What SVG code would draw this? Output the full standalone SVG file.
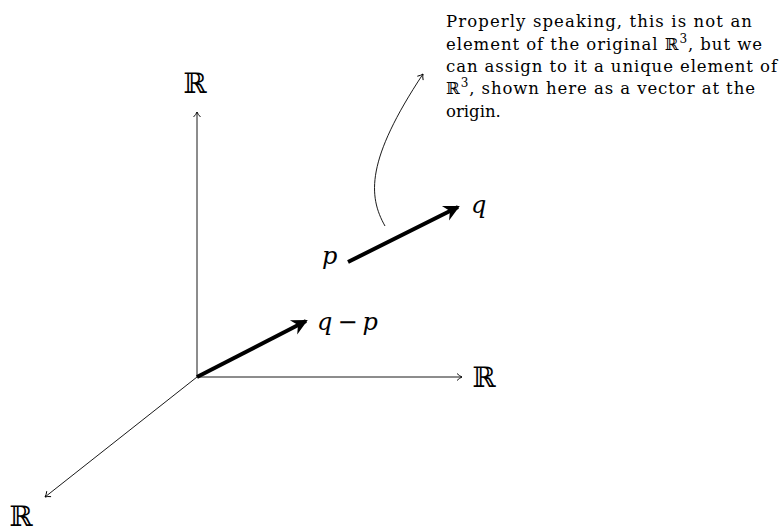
<svg xmlns="http://www.w3.org/2000/svg" width="782" height="532" viewBox="0 0 782 532">
<defs>
<style>
.ax{stroke:#000;stroke-width:0.9;fill:none}
.vec{stroke:#000;stroke-width:4;fill:none}
.bb{font-family:"DejaVu Serif",serif;font-size:28px;fill:#000}
.m{font-family:"DejaVu Serif",serif;font-style:italic;font-size:24px;fill:#000}
.mr{font-family:"DejaVu Serif",serif;font-style:normal;font-size:24px;fill:#000}
.t{font-family:"DejaVu Serif",serif;font-size:16.5px;fill:#000}
.ts{font-family:"DejaVu Serif",serif;font-size:16.5px}
.sup{font-family:"DejaVu Serif",serif;font-size:12px}
</style>
<marker id="to" markerWidth="10" markerHeight="10" refX="6" refY="5" orient="auto" markerUnits="userSpaceOnUse">
<path d="M1,1.5 Q3.5,4 6,5 Q3.5,6 1,8.5" fill="none" stroke="#000" stroke-width="0.9"/>
</marker>
<marker id="st" markerWidth="20" markerHeight="20" refX="14" refY="10" orient="auto" markerUnits="userSpaceOnUse">
<path d="M0,2 L16,10 L0,18 L5,10 Z" fill="#000"/>
</marker>
</defs>
<rect width="782" height="532" fill="#fff"/>
<g id="connectors">
<line class="ax" x1="197" y1="377" x2="197" y2="112" marker-end="url(#to)"/>
<line class="ax" x1="197" y1="377" x2="462" y2="377" marker-end="url(#to)"/>
<line class="ax" x1="197" y1="377" x2="45" y2="497" marker-end="url(#to)"/>
<line class="vec" x1="197" y1="377" x2="306" y2="321" marker-end="url(#st)"/>
<line class="vec" x1="348" y1="262" x2="458" y2="207" marker-end="url(#st)"/>
<path class="ax" d="M385,226 C368,196 366,160 423,74" marker-end="url(#to)"/>
</g>
<g id="axis-y"><text class="bb" x="195" y="93" text-anchor="middle">ℝ</text></g>
<g id="axis-x"><text class="bb" x="484" y="387" text-anchor="middle">ℝ</text></g>
<g id="axis-z"><text class="bb" x="21" y="526" text-anchor="middle">ℝ</text></g>
<g id="label-qp"><text class="m" x="317" y="330">q<tspan class="mr" dx="5">−</tspan><tspan dx="5">p</tspan></text></g>
<g id="label-p"><text class="m" x="322" y="264">p</text></g>
<g id="label-q"><text class="m" x="471" y="213">q</text></g>
<g id="note">
<text class="t" x="446" y="27" textLength="306" lengthAdjust="spacing">Properly speaking, this is not an</text>
<text class="t" x="446" y="50" textLength="316" lengthAdjust="spacing">element of the original <tspan class="ts">ℝ</tspan><tspan class="sup" dy="-7">3</tspan><tspan dy="7">, but we</tspan></text>
<text class="t" x="446" y="72" textLength="331" lengthAdjust="spacing">can assign to it a unique element of</text>
<text class="t" x="446" y="94" textLength="309" lengthAdjust="spacing"><tspan class="ts">ℝ</tspan><tspan class="sup" dy="-7">3</tspan><tspan dy="7">, shown here as a vector at the</tspan></text>
<text class="t" x="446" y="117">origin.</text>
</g>
</svg>
